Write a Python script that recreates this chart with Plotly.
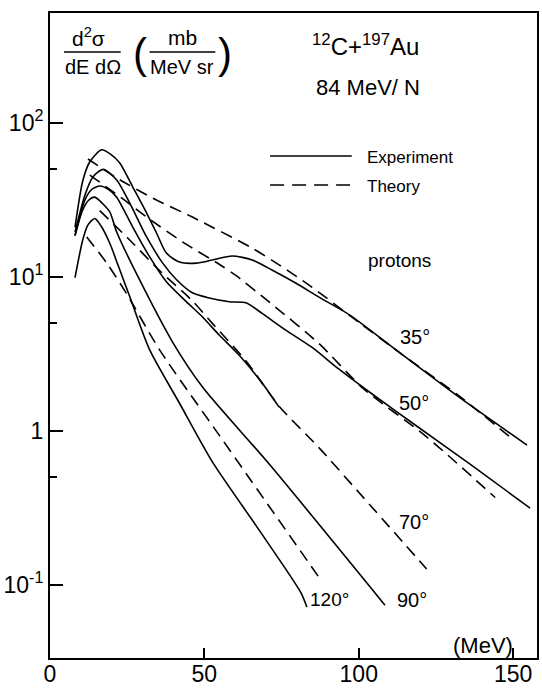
import plotly.graph_objects as go

# ---------------- data ----------------
# Experiment (solid)
exp35_E = [8.1, 10.6, 12.9, 16.7, 19.5, 22.6, 26.8, 31.3, 34.5, 37.7, 41.9, 47.4, 52.6, 59.0, 65.5, 71.9, 79.7, 87.1, 97.1, 114.2, 131.6, 154.5]
exp35_Y = [21.0, 42.0, 56.0, 67.0, 63.0, 55.0, 38.4, 26.0, 19.3, 14.3, 12.5, 12.3, 12.9, 13.7, 12.9, 11.1, 9.1, 7.4, 5.66, 3.12, 1.71, 0.81]

exp50_E = [8.1, 11.3, 13.9, 17.2, 21.6, 25.8, 31.3, 36.5, 41.0, 46.1, 51.6, 58.1, 63.5, 68.7, 76.5, 84.8, 93.5, 105.0, 118.4, 136.5, 155.5]
exp50_Y = [19.6, 34.0, 44.6, 50.0, 42.7, 30.3, 18.2, 12.3, 9.6, 7.9, 7.3, 6.9, 6.8, 5.8, 4.5, 3.5, 2.53, 1.7, 1.09, 0.60, 0.316]

exp70_E = [8.1, 11.3, 13.5, 16.1, 19.0, 21.6, 26.8, 32.3, 37.7, 44.2, 49.4, 54.8, 61.3, 68.7, 74.2]
exp70_Y = [18.5, 31.6, 37.0, 39.0, 37.0, 33.0, 21.1, 13.5, 9.3, 6.9, 5.5, 4.2, 3.1, 2.05, 1.43]

exp90_E = [8.1, 10.5, 12.5, 14.5, 17.0, 19.4, 21.6, 29.0, 39.7, 49.4, 71.0, 108.5]
exp90_Y = [18.7, 27.0, 31.5, 33.0, 30.0, 26.4, 19.6, 9.6, 3.78, 1.93, 0.61, 0.074]

exp120_E = [8.1, 10.6, 12.3, 14.5, 16.5, 19.4, 22.0, 26.0, 32.3, 41.9, 52.6, 67.7, 81.3, 83.2]
exp120_Y = [9.9, 17.4, 21.8, 24.0, 21.5, 16.5, 12.0, 7.3, 3.36, 1.52, 0.63, 0.228, 0.089, 0.072]

# Theory (dashed)
th35_E = [12.3, 21.6, 33.2, 46.1, 65.5, 74.2, 84.8, 97.7, 114.2, 132.0, 150.0]
th35_Y = [58.4, 44.0, 32.6, 24.5, 15.4, 12.0, 8.6, 5.5, 3.12, 1.72, 0.88]

th50_E = [12.9, 23.2, 31.3, 42.9, 54.8, 60.3, 71.3, 87.1, 101.3, 121.6, 144.2]
th50_Y = [45.9, 32.6, 24.5, 16.9, 12.1, 10.2, 6.8, 3.7, 1.9, 0.93, 0.37]

th70_E = [16.1, 25.8, 35.5, 46.1, 52.6, 63.5, 74.2, 87.1, 100.0, 122.0]
th70_Y = [27.0, 17.4, 11.0, 7.0, 5.0, 2.85, 1.45, 0.78, 0.40, 0.127]

th120_E = [11.9, 18.4, 24.8, 35.5, 54.8, 63.5, 87.7]
th120_Y = [18.2, 12.3, 7.8, 3.36, 0.94, 0.53, 0.108]

x_ticks = [0, 50, 100, 150]
x_ticktext = ["0", "50", "100", "150"]
y_ticks = [0.1, 1, 10, 100]
y_ticktext = ["10<sup>-1</sup>", "1", "10<sup>1</sup>", "10<sup>2</sup>"]
y_minor = [0.5, 5, 50]

# ---------------- layout helpers ----------------
W, H = 542, 696
L, R, T, B = 50, 3, 13, 38
PW, PH = W - L - R, H - T - B
FONT = "Liberation Sans Narrow, Liberation Sans, Arial, sans-serif"


def pp(xp, yp):
    return (xp - L) / PW, (H - B - yp) / PH


fig = go.Figure()

solid = [(exp35_E, exp35_Y), (exp50_E, exp50_Y), (exp70_E, exp70_Y), (exp90_E, exp90_Y), (exp120_E, exp120_Y)]
dashed = [(th35_E, th35_Y), (th50_E, th50_Y), (th70_E, th70_Y), (th120_E, th120_Y)]

for E, Y in solid:
    fig.add_trace(go.Scatter(x=E, y=Y, mode="lines",
                             line=dict(color="black", width=1.6, shape="spline", smoothing=0.7),
                             hoverinfo="skip"))
for E, Y in dashed:
    fig.add_trace(go.Scatter(x=E, y=Y, mode="lines",
                             line=dict(color="black", width=1.6, dash="12px,7px", shape="spline", smoothing=0.7),
                             hoverinfo="skip"))

shapes = []
annotations = []


def text(s, xp, yp, size, xanchor="left", yanchor="middle"):
    x, y = pp(xp, yp)
    annotations.append(dict(text=s, x=x, y=y, xref="paper", yref="paper", showarrow=False,
                            xanchor=xanchor, yanchor=yanchor,
                            font=dict(family=FONT, size=size, color="black")))


def hline(x0, x1, yp, dash=None, width=1.6):
    a0, b0 = pp(x0, yp)
    a1, _ = pp(x1, yp)
    ln = dict(color="black", width=width)
    if dash:
        ln["dash"] = dash
    shapes.append(dict(type="line", xref="paper", yref="paper", x0=a0, x1=a1, y0=b0, y1=b0, line=ln))


# y-axis quantity label (fraction)
text("d<sup>2</sup>σ", 89, 37, 21, "center")
hline(64, 121, 52, width=1.4)
text("dE dΩ", 93, 67, 20, "center")
text("(", 140, 53, 42, "center")
text("mb", 183, 37, 21, "center")
hline(150, 216, 52, width=1.4)
text("MeV sr", 183, 67, 20, "center")
text(")", 226, 53, 42, "center")

# reaction label
text("<sup>12</sup>C+<sup>197</sup>Au", 367, 45, 24, "center")
text("84 MeV/ N", 369, 87, 22, "center")

# legend
hline(271, 353, 156)
text("Experiment", 366, 158, 17)
hline(271, 353, 185, dash="14px,8px")
text("Theory", 366, 186, 17)

text("protons", 367, 260, 19)
text("35°", 399, 337, 20)
text("50°", 398, 403, 20)
text("70°", 398, 522, 20)
text("90°", 396, 600, 20)
text("120°", 309, 599, 19)
text("(MeV)", 453, 645, 22)

fig.update_layout(
    width=W, height=H,
    margin=dict(l=L, r=R, t=T, b=B),
    paper_bgcolor="white", plot_bgcolor="white",
    showlegend=False,
    shapes=shapes, annotations=annotations,
)
fig.update_xaxes(
    range=[0, PW / 3.1], showline=True, linecolor="black", linewidth=2, mirror=True,
    ticks="inside", ticklen=10, tickwidth=1.5, tickcolor="black",
    tickvals=x_ticks, ticktext=x_ticktext, ticklabelstandoff=-6,
    showgrid=False, zeroline=False,
    tickfont=dict(family=FONT, size=23, color="black"),
)
fig.update_yaxes(
    type="log", range=[2 - (H - B - 123) / 154, 2 + (123 - T) / 154],
    showline=True, linecolor="black", linewidth=2, mirror=True,
    ticks="inside", ticklen=13, tickwidth=1.5, tickcolor="black",
    tickvals=y_ticks, ticktext=y_ticktext,
    minor=dict(tickvals=y_minor, ticks="inside", ticklen=7, tickwidth=1.5, tickcolor="black", showgrid=False),
    showgrid=False, zeroline=False,
    tickfont=dict(family=FONT, size=23, color="black"),
)

fig.write_html("out.html")
